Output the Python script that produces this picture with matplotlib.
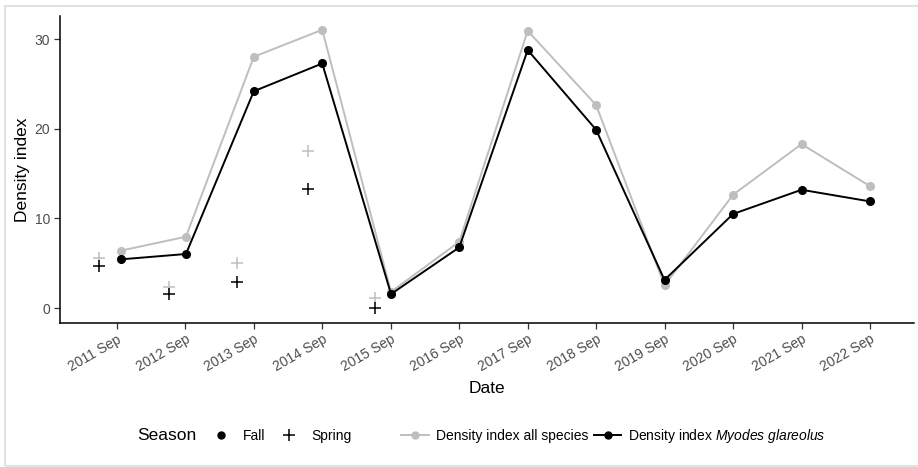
import datetime as dt
import matplotlib
matplotlib.use("Agg")
import matplotlib.pyplot as plt
import matplotlib.transforms as mtransforms
from matplotlib.lines import Line2D
from matplotlib.patches import Rectangle

plt.rcParams['font.family'] = ['Liberation Sans', 'DejaVu Sans']
plt.rcParams['mathtext.fontset'] = 'custom'
plt.rcParams['mathtext.rm'] = 'Liberation Sans'
plt.rcParams['mathtext.it'] = 'Liberation Sans:italic'

# fall sampling (lines + dots)
fall_dates = ["2011-09-22", "2012-09-04", "2013-09-01", "2014-09-01", "2015-09-03",
              "2016-09-01", "2017-09-01", "2018-09-01", "2019-09-01", "2020-09-01",
              "2021-09-01", "2022-09-01"]
fall_all = [6.4, 7.96, 28.05, 31.06, 1.8, 7.4, 30.95, 22.66, 2.53, 12.65, 18.3, 13.6]
fall_myodes = [5.43, 6.03, 24.2, 27.3, 1.56, 6.77, 28.8, 19.9, 3.13, 10.5, 13.2, 11.9]

# spring sampling (crosses)
spring_dates = ["2011-05-27", "2012-06-04", "2013-06-03", "2014-06-17", "2015-06-11"]
spring_all = [5.6, 2.38, 5.06, 17.56, 1.08]
spring_myodes = [4.72, 1.53, 2.94, 13.3, 0.0]

tick_dates = ["%d-09-01" % y for y in range(2011, 2023)]
tick_labels = ["%d Sep" % y for y in range(2011, 2023)]

grey = "#bebebe"


def to_dates(lst):
    return [dt.datetime.strptime(s, "%Y-%m-%d") for s in lst]


fig = plt.figure(figsize=(9.18, 4.67), dpi=100)
W, H = 918, 467
ax = fig.add_axes([60 / W, 1 - 322.7 / H, (914 - 60) / W, (322.7 - 16) / H])

fd = to_dates(fall_dates)
sd = to_dates(spring_dates)

ax.plot(fd, fall_all, color=grey, lw=1.4, marker="o", ms=5.5, zorder=2)
ax.plot(fd, fall_myodes, color="black", lw=1.4, marker="o", ms=5.5, zorder=3)
ax.plot(sd, spring_all, ls="none", marker="+", ms=8, mew=1.1, color=grey, zorder=2)
ax.plot(sd, spring_myodes, ls="none", marker="+", ms=8, mew=1.1, color="black", zorder=3)

ax.set_xlim(dt.datetime(2010, 11, 2), dt.datetime(2023, 4, 24))
ax.set_ylim(-1.64, 32.6)
ax.set_yticks([0, 10, 20, 30])
ax.set_xticks(to_dates(tick_dates))
ax.set_xticklabels(tick_labels, rotation=30, ha="right", rotation_mode="anchor")

# nudge rotated labels like ggplot does
shift = mtransforms.ScaledTranslation(5 / 100, -1 / 100, fig.dpi_scale_trans)
for lab in ax.get_xticklabels():
    lab.set_transform(lab.get_transform() + shift)

for s in ["top", "right"]:
    ax.spines[s].set_visible(False)
for s in ["left", "bottom"]:
    ax.spines[s].set_linewidth(1.1)
    ax.spines[s].set_color("black")
ax.tick_params(length=4, width=0.9, color="#333333", labelcolor="#4d4d4d",
               labelsize=10, pad=3)

ax.set_xlabel("Date", fontsize=12.5, labelpad=5)
ax.set_ylabel("Density index", fontsize=12.5, labelpad=3)

# legends
ly = 1 - 436 / H
fig.text(137 / W, ly, "Season", fontsize=12.5, va="center", ha="left")
season_handles = [
    Line2D([], [], ls="none", marker="o", ms=5, color="black"),
    Line2D([], [], ls="none", marker="+", ms=8, mew=1.1, color="black"),
]
fig.legend(season_handles, ["Fall", "Spring"], loc="center left",
           bbox_to_anchor=(212.6 / W, ly), ncol=2, frameon=False, fontsize=10,
           handlelength=1.2, handletextpad=1.0, columnspacing=1.1,
           borderpad=0, borderaxespad=0)

line_handles = [
    Line2D([], [], color=grey, lw=1.4, marker="o", ms=5),
    Line2D([], [], color="black", lw=1.4, marker="o", ms=5),
]
fig.legend(line_handles,
           ["Density index all species", r"Density index $\mathit{Myodes\ glareolus}$"],
           loc="center left", bbox_to_anchor=(401 / W, ly), ncol=2, frameon=False,
           fontsize=10, handlelength=2.0, handletextpad=0.5, columnspacing=0.4,
           borderpad=0, borderaxespad=0)

# light frame around the figure
fig.add_artist(Rectangle((5 / W, 1 - 466 / H), 1.0, (466 - 6) / H,
                         transform=fig.transFigure, fill=False,
                         edgecolor="#e2e2de", lw=1.5))

fig.savefig("out.png", dpi=100)
